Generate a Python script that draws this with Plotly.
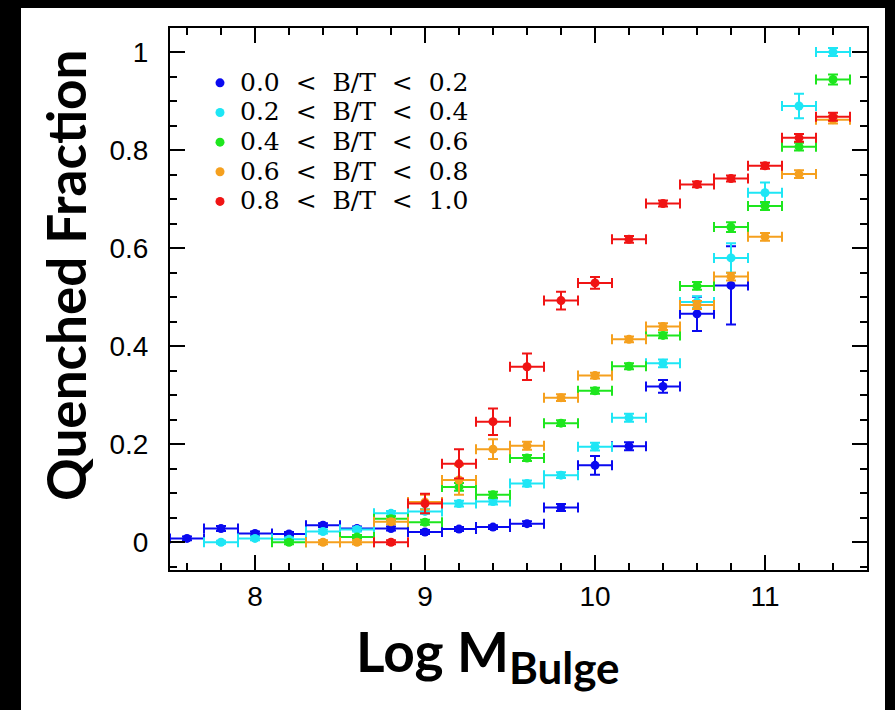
import plotly.graph_objects as go

# ---------------- data ----------------
labels = ["0.0\u00a0\u00a0&lt;\u00a0\u00a0B/T\u00a0\u00a0&lt;\u00a0\u00a00.2",
          "0.2\u00a0\u00a0&lt;\u00a0\u00a0B/T\u00a0\u00a0&lt;\u00a0\u00a00.4",
          "0.4\u00a0\u00a0&lt;\u00a0\u00a0B/T\u00a0\u00a0&lt;\u00a0\u00a00.6",
          "0.6\u00a0\u00a0&lt;\u00a0\u00a0B/T\u00a0\u00a0&lt;\u00a0\u00a00.8",
          "0.8\u00a0\u00a0&lt;\u00a0\u00a0B/T\u00a0\u00a0&lt;\u00a0\u00a01.0"]
colors = ["#0a0af0", "#1ee6f5", "#1ee61e", "#f5a01e", "#f01414"]

bin_halfwidth = 0.1

x_bt02 = [7.6, 7.8, 8.0, 8.2, 8.4, 8.6, 8.8, 9.0, 9.2, 9.4, 9.6, 9.8, 10.0, 10.2, 10.4, 10.6, 10.8]
y_bt02 = [0.008, 0.028, 0.018, 0.017, 0.035, 0.028, 0.028, 0.021, 0.027, 0.031, 0.038, 0.071, 0.157, 0.196, 0.318, 0.466, 0.524]
e_bt02 = [0.004, 0.005, 0.004, 0.004, 0.004, 0.004, 0.004, 0.004, 0.004, 0.004, 0.005, 0.007, 0.019, 0.008, 0.013, 0.035, 0.08]

x_bt04 = [7.8, 8.0, 8.2, 8.4, 8.6, 8.8, 9.0, 9.2, 9.4, 9.6, 9.8, 10.0, 10.2, 10.4, 10.6, 10.8, 11.0, 11.2, 11.4]
y_bt04 = [0.0, 0.008, 0.006, 0.022, 0.026, 0.059, 0.063, 0.079, 0.083, 0.12, 0.137, 0.195, 0.254, 0.365, 0.49, 0.58, 0.713, 0.89, 1.0]
e_bt04 = [0.003, 0.004, 0.004, 0.004, 0.004, 0.005, 0.005, 0.006, 0.006, 0.006, 0.006, 0.008, 0.008, 0.008, 0.012, 0.03, 0.021, 0.025, 0.008]

x_bt06 = [8.2, 8.6, 8.8, 9.0, 9.2, 9.4, 9.6, 9.8, 10.0, 10.2, 10.4, 10.6, 10.8, 11.0, 11.2, 11.4]
y_bt06 = [0.0, 0.011, 0.048, 0.041, 0.113, 0.097, 0.172, 0.243, 0.309, 0.359, 0.422, 0.523, 0.643, 0.686, 0.807, 0.944]
e_bt06 = [0.004, 0.004, 0.005, 0.005, 0.008, 0.006, 0.006, 0.006, 0.006, 0.006, 0.006, 0.008, 0.01, 0.008, 0.008, 0.01]

x_bt08 = [8.4, 8.6, 8.8, 9.0, 9.2, 9.4, 9.6, 9.8, 10.0, 10.2, 10.4, 10.6, 10.8, 11.0, 11.2, 11.4]
y_bt08 = [0.0, 0.0, 0.042, 0.082, 0.127, 0.19, 0.197, 0.295, 0.34, 0.414, 0.44, 0.484, 0.542, 0.623, 0.751, 0.862]
e_bt08 = [0.004, 0.004, 0.005, 0.015, 0.03, 0.02, 0.008, 0.007, 0.006, 0.006, 0.007, 0.008, 0.008, 0.008, 0.008, 0.008]

x_bt10 = [8.8, 9.0, 9.2, 9.4, 9.6, 9.8, 10.0, 10.2, 10.4, 10.6, 10.8, 11.0, 11.2, 11.4]
y_bt10 = [0.0, 0.079, 0.16, 0.246, 0.358, 0.493, 0.529, 0.618, 0.691, 0.73, 0.742, 0.768, 0.825, 0.868]
e_bt10 = [0.004, 0.02, 0.03, 0.027, 0.027, 0.018, 0.012, 0.007, 0.006, 0.006, 0.006, 0.006, 0.008, 0.008]

series_x = [x_bt02, x_bt04, x_bt06, x_bt08, x_bt10]
series_y = [y_bt02, y_bt04, y_bt06, y_bt08, y_bt10]
series_e = [e_bt02, e_bt04, e_bt06, e_bt08, e_bt10]

x_tickvals = [8, 9, 10, 11]
y_tickvals = [0, 0.2, 0.4, 0.6, 0.8, 1]
y_ticktext = ["0", "0.2", "0.4", "0.6", "0.8", "1"]

# ---------------- figure ----------------
fig = go.Figure()
for lab, col, xs, ys, es in zip(labels, colors, series_x, series_y, series_e):
    fig.add_trace(go.Scatter(
        x=xs, y=ys, mode="markers",
        name='<span style="font-size:25px">' + lab + '</span>',
        marker=dict(color=col, size=9),
        error_x=dict(type="constant", value=bin_halfwidth, color=col, thickness=2, width=5),
        error_y=dict(type="data", array=es, color=col, thickness=2, width=5),
    ))

W, H = 895, 710
L, R, T, B = 170, 28, 28, 140
pw, ph = W - L - R, H - T - B

def px(xpix):
    return (xpix - L) / pw

def py(ypix):
    return (H - B - ypix) / ph

axis_common = dict(
    showline=True, linecolor="black", linewidth=2, mirror="ticks",
    ticks="inside", ticklen=15, tickwidth=2, tickcolor="black",
    showgrid=False, zeroline=False,
    tickfont=dict(family="Liberation Sans", size=28, color="black"),
)

fig.update_xaxes(range=[7.5, 11.6], tickvals=x_tickvals,
                 minor=dict(ticks="inside", ticklen=7, tickwidth=2, tickcolor="black", dtick=0.2, tick0=7.6),
                 ticklabelstandoff=0, **axis_common)
fig.update_yaxes(range=[-0.0565, 1.049], tickvals=y_tickvals, ticktext=y_ticktext,
                 minor=dict(ticks="inside", ticklen=7, tickwidth=2, tickcolor="black", dtick=0.05, tick0=0),
                 ticklabelstandoff=14, **axis_common)

shapes = [
    dict(type="rect", xref="paper", yref="paper", x0=px(0), x1=px(21), y0=py(H), y1=py(0),
         fillcolor="black", line=dict(width=0), layer="above"),
    dict(type="rect", xref="paper", yref="paper", x0=px(0), x1=px(W), y0=py(8), y1=py(0),
         fillcolor="black", line=dict(width=0), layer="above"),
    dict(type="rect", xref="paper", yref="paper", x0=px(885), x1=px(W), y0=py(H), y1=py(0),
         fillcolor="black", line=dict(width=0), layer="above"),
]

annotations = [
    dict(text="Quenched Fraction", textangle=-90, xref="paper", yref="paper",
         x=px(65), y=py(276), xanchor="center", yanchor="middle", showarrow=False,
         font=dict(family="Lato", size=53, color="black", weight="bold")),
    dict(text='Log M<sub><span style="font-size:44px">Bulge</span></sub>', xref="paper", yref="paper",
         x=px(488), y=py(655), xanchor="center", yanchor="middle", showarrow=False,
         font=dict(family="Lato", size=55, color="black", weight="bold")),
]

fig.update_layout(
    width=W, height=H,
    margin=dict(l=L, r=R, t=T, b=B),
    paper_bgcolor="white", plot_bgcolor="white",
    showlegend=True,
    legend=dict(x=px(200), y=py(63), xanchor="left", yanchor="top",
                font=dict(family="DejaVu Serif", size=20.5, color="black"),
                bgcolor="rgba(0,0,0,0)", itemsizing="trace", borderwidth=0),
    shapes=shapes, annotations=annotations,
)

fig.write_html("out.html", config={"displayModeBar": False},
               post_script="document.body.style.margin='0px';")
